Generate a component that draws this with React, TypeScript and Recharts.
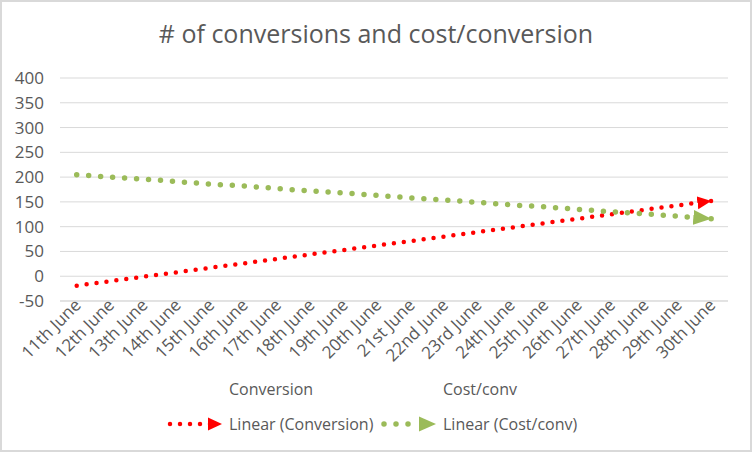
import { LineChart, Line, XAxis, YAxis, CartesianGrid, Legend } from 'recharts';

const days = [
  '11th June', '12th June', '13th June', '14th June', '15th June',
  '16th June', '17th June', '18th June', '19th June', '20th June',
  '21st June', '22nd June', '23rd June', '24th June', '25th June',
  '26th June', '27th June', '28th June', '29th June', '30th June',
];

// linear trend values
const conversionTrend = [-19, -10, -1, 8, 17, 26, 35, 44, 53, 62, 71, 80, 89, 98, 107, 116, 125, 134, 143, 152];
const costConvTrend = [205, 200, 196, 191, 186, 182, 177, 172, 168, 163, 158, 154, 149, 144, 140, 135, 130, 126, 121, 116];

const yTicks = [-50, 0, 50, 100, 150, 200, 250, 300, 350, 400];

const chartData = days.map((day, i) => ({
  day,
  conversion: conversionTrend[i],
  costConv: costConvTrend[i],
}));

const FONT = '"Open Sans", sans-serif';
const GREY = '#595959';
const RED = '#ff0000';
const GREEN = '#9bbb59';

const DayTick = ({ x, y, payload }: { x: number; y: number; payload: { value: string } }) => (
  <text
    x={x + 1}
    y={y + 1}
    dy="0.35em"
    textAnchor="end"
    transform={`rotate(-45 ${x + 1} ${y + 1})`}
    fill={GREY}
    fontSize={17}
    fontFamily={FONT}
  >
    {payload.value}
  </text>
);

const LegendBox = () => (
  <div style={{ position: 'relative', width: 752, height: 80, fontFamily: FONT, fontSize: 16, color: GREY, lineHeight: '20px' }}>
    <span style={{ position: 'absolute', left: 229, top: 7 }}>Conversion</span>
    <span style={{ position: 'absolute', left: 443, top: 7 }}>Cost/conv</span>
    <svg style={{ position: 'absolute', left: 0, top: 0 }} width={752} height={80}>
      <line x1={170} y1={52} x2={212} y2={52} stroke={RED} strokeWidth={4.5} strokeDasharray="0 10" strokeLinecap="round" />
      <path d="M208,45.5 L222,52 L208,58.5 Z" fill={RED} />
      <line x1={384} y1={52} x2={420} y2={52} stroke={GREEN} strokeWidth={5.5} strokeDasharray="0 12" strokeLinecap="round" />
      <path d="M419,44.5 L436,52 L419,59.5 Z" fill={GREEN} />
    </svg>
    <span style={{ position: 'absolute', left: 229, top: 42 }}>Linear (Conversion)</span>
    <span style={{ position: 'absolute', left: 443, top: 42 }}>Linear (Cost/conv)</span>
  </div>
);

export default function App() {
  return (
    <div
      style={{
        position: 'absolute',
        left: 0,
        top: 0,
        width: 752,
        height: 452,
        boxSizing: 'border-box',
        border: '2px solid #d9d9d9',
        background: '#fff',
        fontFamily: FONT,
      }}
    >
      <div
        style={{
          position: 'absolute',
          left: -2,
          top: 15,
          width: 752,
          textAlign: 'center',
          fontSize: 25,
          lineHeight: '32px',
          color: GREY,
        }}
      >
        # of conversions and cost/conversion
      </div>
      <div style={{ position: 'absolute', left: -2, top: -2 }}>
        <LineChart width={752} height={452} data={chartData} margin={{ top: 78, right: 24, bottom: 0, left: 0 }}>
          <defs>
            <marker id="arrowRed" markerUnits="userSpaceOnUse" markerWidth={16} markerHeight={16} refX={14} refY={6.5} orient="auto">
              <path d="M0,0 L14,6.5 L0,13 Z" fill={RED} />
            </marker>
            <marker id="arrowGreen" markerUnits="userSpaceOnUse" markerWidth={20} markerHeight={18} refX={18} refY={7.5} orient="auto">
              <path d="M0,0 L18,7.5 L0,15 Z" fill={GREEN} />
            </marker>
          </defs>
          <CartesianGrid stroke="#d9d9d9" vertical={false} />
          <XAxis
            dataKey="day"
            interval={0}
            height={71}
            padding={{ left: 16.7, right: 16.7 }}
            tickLine={false}
            axisLine={{ stroke: '#d9d9d9' }}
            tick={DayTick}
            tickSize={0}
            tickMargin={0}
          />
          <YAxis
            width={60}
            domain={[-50, 400]}
            ticks={yTicks}
            interval={0}
            axisLine={false}
            tickLine={false}
            tickSize={6}
            tickMargin={10}
            tick={{ fill: GREY, fontSize: 17, fontFamily: FONT }}
          />
          <Legend verticalAlign="bottom" content={() => <LegendBox />} wrapperStyle={{ left: 0, width: 752, height: 80 }} />
          <Line
            dataKey="conversion"
            name="Linear (Conversion)"
            type="linear"
            stroke={RED}
            strokeWidth={4.5}
            strokeDasharray="0 10"
            strokeLinecap="round"
            dot={false}
            activeDot={false}
            markerEnd="url(#arrowRed)"
            isAnimationActive={false}
          />
          <Line
            dataKey="costConv"
            name="Linear (Cost/conv)"
            type="linear"
            stroke={GREEN}
            strokeWidth={5.5}
            strokeDasharray="0 12"
            strokeLinecap="round"
            dot={false}
            activeDot={false}
            markerEnd="url(#arrowGreen)"
            isAnimationActive={false}
          />
        </LineChart>
      </div>
    </div>
  );
}
